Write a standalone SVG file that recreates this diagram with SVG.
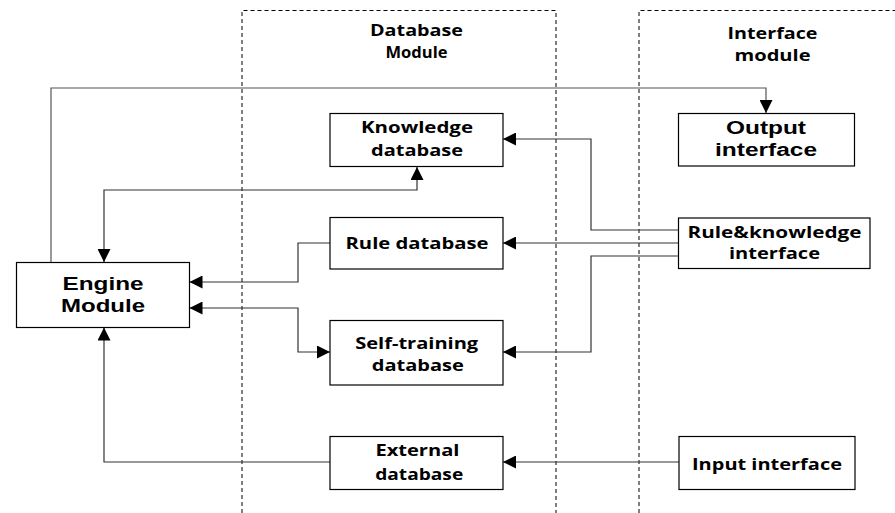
<svg xmlns="http://www.w3.org/2000/svg" width="895" height="513" viewBox="0 0 895 513">
<defs>
<marker id="ah" markerUnits="userSpaceOnUse" markerWidth="14" markerHeight="13" refX="13" refY="6.5" orient="auto-start-reverse">
<path d="M0,0 L13,6.5 L0,13 z" fill="#000"/>
</marker>
</defs>
<style>
.box{fill:#fff;stroke:#000;stroke-width:1.2}
.dash{fill:none;stroke:#000;stroke-width:1;stroke-dasharray:4,3}
.c{fill:none;stroke:#333;stroke-width:1.2}
.t{font-family:"Open Sans","Liberation Sans",sans-serif;font-weight:bold;fill:#000;text-anchor:middle}
.a{font-family:"Liberation Sans",Arial,sans-serif;font-weight:bold;fill:#000;text-anchor:middle}
</style>
<rect width="895" height="513" fill="#fff"/>
<g id="database-module">
<path class="dash" d="M242,513 V10.5 H556 V513"/>
<text class="t" x="416.5" y="36" textLength="93" lengthAdjust="spacingAndGlyphs" style="font-size:15.5px">Database</text>
<text class="t" x="416.5" y="58" textLength="62" lengthAdjust="spacingAndGlyphs" style="font-size:15.5px">Module</text>
</g>
<g id="interface-module">
<path class="dash" d="M639,513 V10.5 H895"/>
<text class="t" x="772.5" y="39.3" textLength="90" lengthAdjust="spacingAndGlyphs" style="font-size:15.5px">Interface</text>
<text class="t" x="772.5" y="61" textLength="76" lengthAdjust="spacingAndGlyphs" style="font-size:15.5px">module</text>
</g>
<g id="connectors">
<path class="c" style="stroke:#555" d="M51,262 V88 H766 V113" marker-end="url(#ah)"/>
<path class="c" d="M417,167 V190 H104 V262" marker-start="url(#ah)" marker-end="url(#ah)"/>
<path class="c" d="M330,243 H298 V282 H189.5" marker-end="url(#ah)"/>
<path class="c" d="M189.5,308 H298 V352 H330" marker-start="url(#ah)" marker-end="url(#ah)"/>
<path class="c" d="M330,462 H104 V327.5" marker-end="url(#ah)"/>
<path class="c" d="M678,230 H591 V139 H503" marker-end="url(#ah)"/>
<path class="c" d="M678,243 H503" marker-end="url(#ah)"/>
<path class="c" d="M678,256 H591 V352 H503" marker-end="url(#ah)"/>
<path class="c" d="M679,462 H503" marker-end="url(#ah)"/>
</g>
<g id="engine-module">
<rect class="box" x="16.5" y="262.5" width="173" height="65"/>
<text class="a" x="103" y="290" textLength="81" lengthAdjust="spacingAndGlyphs" style="font-size:18.5px">Engine</text>
<text class="a" x="103" y="311.7" textLength="84" lengthAdjust="spacingAndGlyphs" style="font-size:18.5px">Module</text>
</g>
<g id="knowledge-database">
<rect class="box" x="330" y="113.5" width="173" height="53"/>
<text class="t" x="417" y="133.3" textLength="112" lengthAdjust="spacingAndGlyphs" style="font-size:16px">Knowledge</text>
<text class="t" x="417" y="155.7" textLength="92" lengthAdjust="spacingAndGlyphs" style="font-size:16px">database</text>
</g>
<g id="rule-database">
<rect class="box" x="330" y="217.5" width="173" height="51.5"/>
<text class="t" x="417" y="249" textLength="143" lengthAdjust="spacingAndGlyphs" style="font-size:15.5px">Rule database</text>
</g>
<g id="self-training-database">
<rect class="box" x="330" y="320.5" width="173" height="64.5"/>
<text class="t" x="416.7" y="349" textLength="123" lengthAdjust="spacingAndGlyphs" style="font-size:16px">Self-training</text>
<text class="t" x="417.8" y="371" textLength="92" lengthAdjust="spacingAndGlyphs" style="font-size:16px">database</text>
</g>
<g id="external-database">
<rect class="box" x="330" y="436.5" width="173" height="53"/>
<text class="t" x="417.4" y="455.7" textLength="84" lengthAdjust="spacingAndGlyphs" style="font-size:16px">External</text>
<text class="t" x="419.2" y="480" textLength="88" lengthAdjust="spacingAndGlyphs" style="font-size:16px">database</text>
</g>
<g id="output-interface">
<rect class="box" x="678.5" y="113.5" width="176" height="52.5"/>
<text class="a" x="766" y="134" textLength="80" lengthAdjust="spacingAndGlyphs" style="font-size:17.5px">Output</text>
<text class="a" x="766" y="156" textLength="102" lengthAdjust="spacingAndGlyphs" style="font-size:17.5px">interface</text>
</g>
<g id="rule-knowledge-interface">
<rect class="box" x="678.5" y="218" width="191.5" height="50.5"/>
<text class="t" x="774.5" y="237.7" textLength="174" lengthAdjust="spacingAndGlyphs" style="font-size:15.5px">Rule&amp;knowledge</text>
<text class="t" x="774.5" y="259.3" textLength="91" lengthAdjust="spacingAndGlyphs" style="font-size:15.5px">interface</text>
</g>
<g id="input-interface">
<rect class="box" x="679" y="436.5" width="176" height="53"/>
<text class="t" x="767" y="470" textLength="150" lengthAdjust="spacingAndGlyphs" style="font-size:16.5px">Input interface</text>
</g>
</svg>
